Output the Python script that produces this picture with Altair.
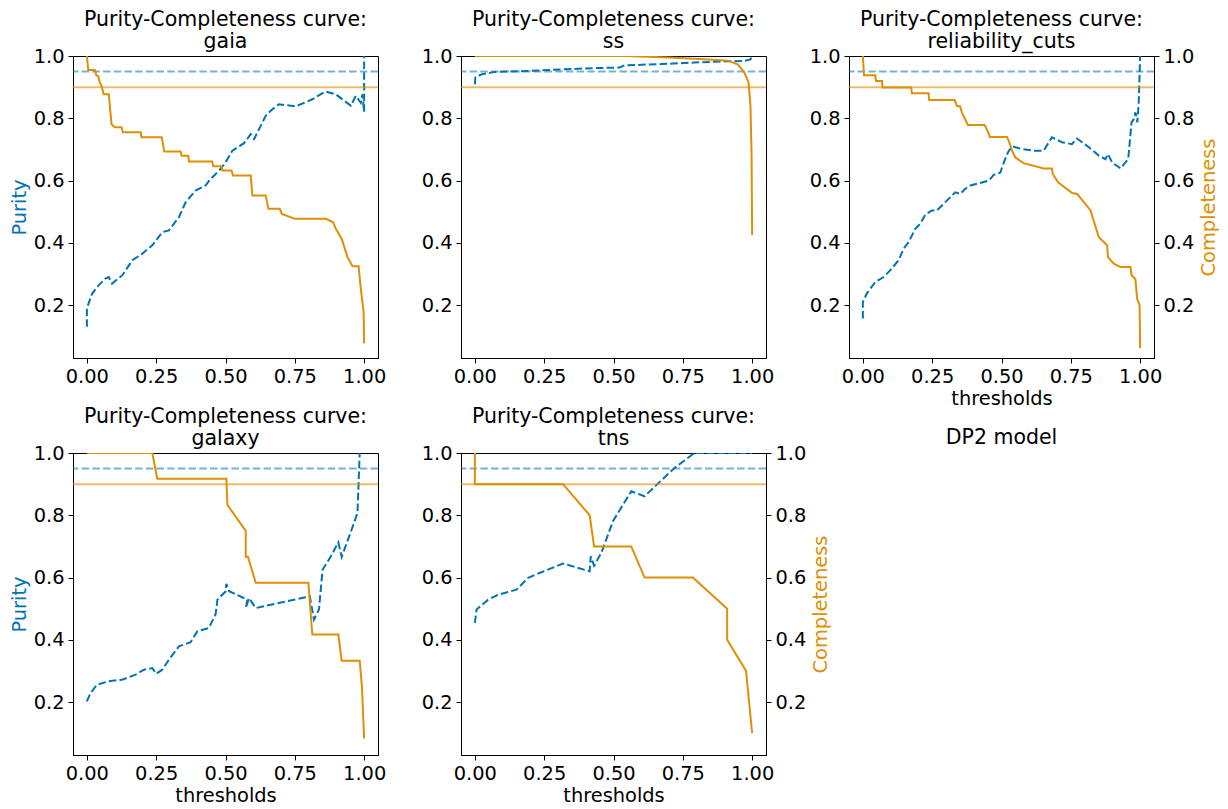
import altair as alt
import pandas as pd

BLUE = "#0173b2"
ORANGE = "#de8f05"
FONT = "DejaVu Sans"
FS = 19.4
TFS = 20.5

# horizontal targets
purity_target = [0.95]
completeness_target = [0.9]

x_ticks = [0.0, 0.25, 0.5, 0.75, 1.0]
y_ticks = [0.2, 0.4, 0.6, 0.8, 1.0]

# ---- gaia ----
gaia_pur_x = [0.000, 0.000, 0.019, 0.043, 0.067, 0.079, 0.091, 0.128, 0.164, 0.200, 0.236, 0.272, 0.296,
              0.332, 0.356, 0.392, 0.428, 0.446, 0.477, 0.500, 0.525, 0.567, 0.591, 0.603, 0.645, 0.669,
              0.693, 0.753, 0.813, 0.861, 0.898, 0.952, 0.970, 0.988, 0.994, 1.000, 1.000]
gaia_pur_y = [0.130, 0.190, 0.237, 0.264, 0.285, 0.290, 0.269, 0.296, 0.344, 0.365, 0.392, 0.434, 0.440,
              0.482, 0.530, 0.568, 0.584, 0.605, 0.632, 0.658, 0.696, 0.720, 0.749, 0.733, 0.808, 0.829,
              0.845, 0.838, 0.861, 0.886, 0.877, 0.840, 0.872, 0.850, 0.877, 0.820, 1.000]
gaia_comp_x = [0.000, 0.005, 0.029, 0.034, 0.041, 0.046, 0.053, 0.061, 0.079, 0.089, 0.101, 0.125, 0.130,
               0.194, 0.197, 0.270, 0.274, 0.279, 0.338, 0.342, 0.366, 0.368, 0.452, 0.456, 0.486, 0.489,
               0.522, 0.527, 0.591, 0.597, 0.645, 0.655, 0.696, 0.703, 0.751, 0.862, 0.888, 0.898, 0.919,
               0.940, 0.958, 0.980, 0.988, 0.998, 1.000]
gaia_comp_y = [1.000, 0.955, 0.955, 0.938, 0.936, 0.917, 0.904, 0.877, 0.877, 0.781, 0.771, 0.771, 0.755,
               0.755, 0.739, 0.739, 0.720, 0.693, 0.693, 0.680, 0.680, 0.661, 0.661, 0.646, 0.646, 0.632,
               0.632, 0.616, 0.616, 0.552, 0.552, 0.509, 0.509, 0.493, 0.477, 0.477, 0.466, 0.445, 0.413,
               0.354, 0.325, 0.325, 0.253, 0.178, 0.077]

# ---- ss ----
ss_pur_x = [0.000, 0.002, 0.024, 0.072, 0.192, 0.312, 0.432, 0.523, 0.540, 0.672, 0.792, 0.912, 0.972, 0.994, 1.000]
ss_pur_y = [0.909, 0.931, 0.941, 0.949, 0.952, 0.957, 0.961, 0.963, 0.970, 0.974, 0.979, 0.983, 0.984, 0.989, 1.000]
ss_comp_x = [0.000, 0.547, 0.700, 0.792, 0.860, 0.912, 0.948, 0.972, 0.987, 0.994, 0.998, 1.000]
ss_comp_y = [1.000, 1.000, 0.995, 0.991, 0.988, 0.985, 0.973, 0.947, 0.915, 0.840, 0.680, 0.425]

# ---- reliability_cuts ----
rel_pur_x = [0.000, 0.000, 0.014, 0.045, 0.075, 0.099, 0.129, 0.147, 0.165, 0.189, 0.207, 0.225, 0.249,
             0.267, 0.285, 0.309, 0.333, 0.351, 0.369, 0.388, 0.442, 0.454, 0.472, 0.496, 0.504, 0.523,
             0.538, 0.574, 0.616, 0.652, 0.682, 0.718, 0.754, 0.772, 0.815, 0.851, 0.875, 0.884, 0.899,
             0.929, 0.957, 0.969, 0.977, 0.983, 0.990, 0.995, 1.000]
rel_pur_y = [0.157, 0.210, 0.237, 0.274, 0.290, 0.312, 0.344, 0.381, 0.402, 0.445, 0.461, 0.490, 0.504,
             0.504, 0.520, 0.541, 0.562, 0.557, 0.573, 0.584, 0.597, 0.600, 0.618, 0.626, 0.648, 0.690,
             0.710, 0.701, 0.696, 0.696, 0.739, 0.723, 0.717, 0.735, 0.707, 0.680, 0.669, 0.685, 0.658,
             0.639, 0.669, 0.787, 0.797, 0.819, 0.787, 0.851, 1.000]
rel_comp_x = [0.000, 0.004, 0.045, 0.047, 0.069, 0.071, 0.174, 0.177, 0.237, 0.239, 0.331, 0.339, 0.351,
              0.357, 0.369, 0.379, 0.439, 0.451, 0.458, 0.520, 0.532, 0.538, 0.550, 0.580, 0.652, 0.682,
              0.685, 0.704, 0.755, 0.773, 0.821, 0.851, 0.881, 0.884, 0.905, 0.929, 0.965, 0.969, 0.983,
              0.989, 0.998, 1.000]
rel_comp_y = [1.000, 0.938, 0.938, 0.920, 0.920, 0.899, 0.899, 0.880, 0.880, 0.859, 0.859, 0.840, 0.838,
              0.819, 0.797, 0.778, 0.778, 0.757, 0.740, 0.740, 0.714, 0.696, 0.674, 0.656, 0.639, 0.639,
              0.621, 0.594, 0.560, 0.557, 0.504, 0.418, 0.392, 0.354, 0.333, 0.322, 0.322, 0.296, 0.283,
              0.221, 0.200, 0.061]

# ---- galaxy ----
gal_pur_x = [0.000, 0.013, 0.037, 0.079, 0.127, 0.176, 0.206, 0.236, 0.250, 0.272, 0.296, 0.332, 0.374,
             0.398, 0.440, 0.464, 0.471, 0.501, 0.503, 0.513, 0.579, 0.573, 0.585, 0.609, 0.789, 0.804,
             0.819, 0.837, 0.850, 0.880, 0.907, 0.919, 0.946, 0.976, 0.984]
gal_pur_y = [0.202, 0.229, 0.256, 0.267, 0.272, 0.288, 0.304, 0.309, 0.291, 0.304, 0.336, 0.379, 0.392,
             0.427, 0.438, 0.481, 0.529, 0.556, 0.580, 0.556, 0.529, 0.502, 0.534, 0.502, 0.537, 0.540,
             0.465, 0.497, 0.625, 0.668, 0.713, 0.666, 0.732, 0.807, 1.000]
gal_comp_x = [0.000, 0.236, 0.254, 0.503, 0.507, 0.573, 0.573, 0.581, 0.609, 0.799, 0.813, 0.907, 0.919,
              0.984, 0.992, 1.000]
gal_comp_y = [1.000, 1.000, 0.917, 0.917, 0.833, 0.750, 0.667, 0.667, 0.583, 0.583, 0.417, 0.417, 0.333,
              0.333, 0.250, 0.083]

# ---- tns ----
tns_pur_x = [0.000, 0.006, 0.048, 0.084, 0.150, 0.192, 0.240, 0.318, 0.414, 0.418, 0.430, 0.456, 0.498,
             0.564, 0.612, 0.720, 0.792, 1.000]
tns_pur_y = [0.454, 0.497, 0.529, 0.545, 0.561, 0.599, 0.617, 0.645, 0.620, 0.668, 0.638, 0.679, 0.781,
             0.877, 0.861, 0.952, 1.000, 1.000]
tns_comp_x = [0.000, 0.000, 0.318, 0.414, 0.430, 0.564, 0.612, 0.786, 0.910, 0.910, 0.978, 1.000]
tns_comp_y = [1.0, 0.9, 0.9, 0.8, 0.7, 0.7, 0.6, 0.6, 0.5, 0.4, 0.3, 0.1]

panels = [
    ("gaia", gaia_pur_x, gaia_pur_y, gaia_comp_x, gaia_comp_y, True, False, False),
    ("ss", ss_pur_x, ss_pur_y, ss_comp_x, ss_comp_y, False, False, False),
    ("reliability_cuts", rel_pur_x, rel_pur_y, rel_comp_x, rel_comp_y, False, True, True),
    ("galaxy", gal_pur_x, gal_pur_y, gal_comp_x, gal_comp_y, True, False, True),
    ("tns", tns_pur_x, tns_pur_y, tns_comp_x, tns_comp_y, False, True, True),
]

W, H = 305, 302
xscale = alt.Scale(domain=[-0.05, 1.05], nice=False, zero=False)
yscale = alt.Scale(domain=[0.03, 1.0], nice=False, zero=False)


def title_params(lines, offset):
    return alt.TitleParams(text=lines, frame="group", anchor="middle", font=FONT, fontSize=TFS,
                           fontWeight="normal", color="black", lineHeight=22, offset=offset)


def make_panel(name, px, py, cx, cy, left_title, right_axis, x_title):
    pur = pd.DataFrame({"x": px, "y": py, "i": list(range(len(px)))})
    comp = pd.DataFrame({"x": cx, "y": cy, "i": list(range(len(cx)))})
    p_rule = pd.DataFrame({"y": purity_target})
    c_rule = pd.DataFrame({"y": completeness_target})

    xaxis_kw = dict(values=x_ticks, format=".2f", labelFlush=False)
    xaxis_kw["title"] = "thresholds" if x_title else ""
    xenc = alt.X("x:Q", scale=xscale, axis=alt.Axis(**xaxis_kw))

    yaxis_kw = dict(orient="left", values=y_ticks, format=".1f", labelFlush=False)
    if left_title:
        yaxis_kw["title"] = "Purity"
        yaxis_kw["titleColor"] = BLUE
    else:
        yaxis_kw["title"] = ""
    yenc = alt.Y("y:Q", scale=yscale, axis=alt.Axis(**yaxis_kw))

    pur_line = alt.Chart(pur).mark_line(color=BLUE, strokeWidth=2, strokeDash=[7.5, 3.2], clip=True).encode(
        x=xenc, y=yenc, order="i:Q")
    rule95 = alt.Chart(p_rule).mark_rule(color=BLUE, strokeWidth=2, strokeDash=[7.5, 3.2], opacity=0.55).encode(y=yenc)
    rule90 = alt.Chart(c_rule).mark_rule(color=ORANGE, strokeWidth=2, opacity=0.6).encode(y=yenc)

    if right_axis:
        caxis = alt.Axis(orient="right", values=y_ticks, format=".1f", title="Completeness",
                         titleColor=ORANGE, titleAngle=270, titleBaseline="top", titlePadding=6,
                         labelFlush=False)
    else:
        caxis = None
    cenc = alt.Y("y:Q", scale=yscale, axis=caxis)
    comp_line = alt.Chart(comp).mark_line(color=ORANGE, strokeWidth=2, clip=True).encode(
        x=xenc, y=cenc, order="i:Q")

    left = alt.layer(pur_line, rule95, rule90)
    return alt.layer(left, comp_line).resolve_scale(y="independent").properties(
        width=W, height=H, title=title_params(["Purity-Completeness curve:", name], -6.5))


charts = [make_panel(*p) for p in panels]

empty = pd.DataFrame({"x": [0.5]})
dp2 = alt.Chart(empty).mark_point(opacity=0).encode(
    x=alt.X("x:Q", axis=None), y=alt.Y("x:Q", axis=None)
).properties(width=W, height=H, title=title_params("DP2 model", 2),
             view=alt.ViewBackground(stroke="transparent"))
charts.append(dp2)

chart = alt.concat(*charts, columns=3, spacing={"row": 95, "column": 83}, bounds="flush").properties(
    padding={"left": 0, "top": 1, "right": 0, "bottom": 0}
).configure_view(stroke="black", strokeWidth=1).configure_axis(
    grid=False, domainColor="black", domainWidth=1, tickColor="black", tickWidth=1, tickSize=5,
    labelColor="black", labelFont=FONT, labelFontSize=FS, labelPadding=4,
    titleFont=FONT, titleFontSize=FS, titleFontWeight="normal", titleColor="black", titlePadding=4
)

chart.save("out.html", embed_options={"renderer": "svg", "actions": False})
